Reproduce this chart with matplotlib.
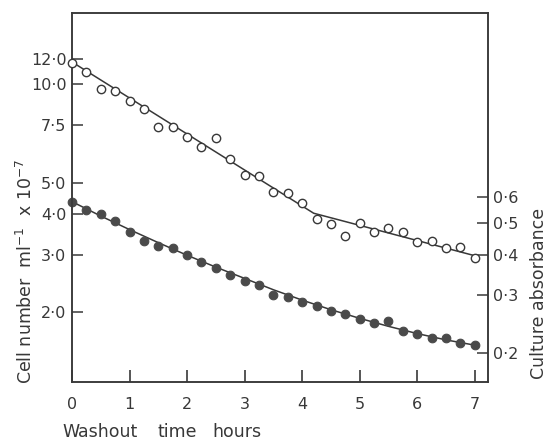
import matplotlib
matplotlib.use("Agg")
import matplotlib.pyplot as plt
from matplotlib.ticker import FixedLocator, NullLocator

plt.rcParams['font.family'] = ['DejaVu Sans']

# ---- data ----
hours = [0, 0.25, 0.5, 0.75, 1.0, 1.25, 1.5, 1.75, 2.0, 2.25, 2.5, 2.75, 3.0, 3.25,
         3.5, 3.75, 4.0, 4.25, 4.5, 4.75, 5.0, 5.25, 5.5, 5.75, 6.0, 6.25, 6.5, 6.75, 7.0]

cell_number = [11.6, 10.9, 9.71, 9.53, 8.92, 8.39, 7.39, 7.42, 6.92, 6.42, 6.86, 5.89,
               5.28, 5.24, 4.67, 4.66, 4.32, 3.86, 3.74, 3.42, 3.75, 3.52, 3.62, 3.53,
               3.29, 3.31, 3.15, 3.17, 2.94]

absorbance = [0.581, 0.548, 0.531, 0.506, 0.470, 0.441, 0.426, 0.419, 0.400, 0.380,
              0.364, 0.346, 0.333, 0.323, 0.301, 0.296, 0.286, 0.279, 0.269, 0.263,
              0.254, 0.246, 0.251, 0.234, 0.228, 0.222, 0.222, 0.215, 0.211]

cell_fit_x = [0, 4.2, 7.05]
cell_fit_y = [11.72, 4.03, 2.97]

abs_fit_x = [0, 0.5, 1, 1.5, 2, 2.5, 3, 3.5, 4, 4.5, 5, 5.5, 6, 6.5, 7]
abs_fit_y = [0.581, 0.525, 0.477, 0.435, 0.398, 0.366, 0.338, 0.312, 0.290,
             0.271, 0.255, 0.241, 0.229, 0.219, 0.211]

x_ticks = [0, 1, 2, 3, 4, 5, 6, 7]
left_ticks = [12.0, 10.0, 7.5, 5.0, 4.0, 3.0, 2.0]
left_labels = ["12·0", "10·0", "7·5", "5·0", "4·0", "3·0", "2·0"]
right_ticks = [0.6, 0.5, 0.4, 0.3, 0.2]
right_labels = ["0·6", "0·5", "0·4", "0·3", "0·2"]

# ---- figure ----
W, H = 547, 442
fig = plt.figure(figsize=(W / 100, H / 100), dpi=100)
fig.patch.set_facecolor('white')
L, R, T, B = 72, 488, 13, 382
rect = [L / W, 1 - B / H, (R - L) / W, (B - T) / H]

ink = '#383838'
fs = 11.5
lfs = 12.5

# right-hand (absorbance) axes drawn first, underneath
ax2 = fig.add_axes(rect)
ax2.set_yscale('log')
ax2.set_xlim(0, 7.23)
ax2.set_ylim(0.1627, 2.20)
ax2.yaxis.tick_right()
ax2.xaxis.set_visible(False)
ax2.yaxis.set_major_locator(FixedLocator(right_ticks))
ax2.set_yticklabels(right_labels)
ax2.yaxis.set_minor_locator(NullLocator())
ax2.tick_params(axis='y', which='major', direction='in', length=8, width=1.1,
                color=ink, labelsize=fs, labelcolor=ink, pad=3.5,
                left=False, right=True)

# left-hand (cell number) axes on top, transparent
ax = fig.add_axes(rect, sharex=ax2)
ax.patch.set_visible(False)
ax.set_yscale('log')
ax.set_ylim(1.2245, 16.56)
ax.xaxis.set_major_locator(FixedLocator(x_ticks))
ax.set_xticklabels([str(t) for t in x_ticks])
ax.xaxis.set_minor_locator(NullLocator())
ax.yaxis.set_major_locator(FixedLocator(left_ticks))
ax.set_yticklabels(left_labels)
ax.yaxis.set_minor_locator(NullLocator())
ax.tick_params(axis='x', which='major', direction='in', length=9, width=1.2,
               color=ink, labelsize=fs, labelcolor=ink, pad=11,
               bottom=True, top=False)
ax.tick_params(axis='y', which='major', direction='in', length=8, width=1.1,
               color=ink, labelsize=fs, labelcolor=ink, pad=4,
               left=True, right=False)

for a in (ax, ax2):
    for s in a.spines.values():
        s.set_color(ink)
        s.set_linewidth(1.1)

ax.plot(cell_fit_x, cell_fit_y, color=ink, lw=1.1, clip_on=False, zorder=2)
ax.plot(hours, cell_number, linestyle='none', marker='o', markersize=6,
        markerfacecolor='white', markeredgecolor=ink, markeredgewidth=1.0,
        clip_on=False, zorder=3)

ax2.plot(abs_fit_x, abs_fit_y, color=ink, lw=1.1, clip_on=False, zorder=2)
ax2.plot(hours, absorbance, linestyle='none', marker='o', markersize=6.2,
         markerfacecolor='#4a4a4a', markeredgecolor='#4a4a4a', markeredgewidth=0.8,
         clip_on=False, zorder=3)

# x-axis title, word by word as spaced in the original
for word, xp in (("Washout", 62), ("time", 157), ("hours", 212)):
    fig.text(xp / W, 1 - 437 / H, word, fontsize=lfs, color=ink,
             ha='left', va='baseline')

fig.text(26 / W, 1 - 271 / H, r"Cell number  ml$^{-1}$  x 10$^{-7}$", fontsize=lfs,
         color=ink, rotation=90, ha='center', va='center')
fig.text(539 / W, 1 - 293 / H, "Culture absorbance", fontsize=lfs, color=ink,
         rotation=90, ha='center', va='center')

fig.savefig("out.png", dpi=100, facecolor='white')
